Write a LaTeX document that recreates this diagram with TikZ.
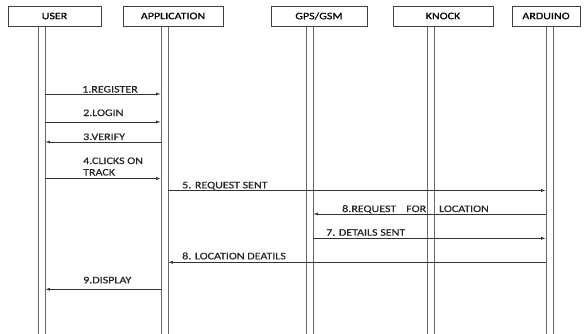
\documentclass[tikz,border=0pt]{standalone}
\usepackage{fontspec}
\newfontfamily\diagfont[FakeStretch=1.2,FakeBold=0.6]{Carlito}
\usetikzlibrary{arrows.meta}

\begin{document}
\begin{tikzpicture}[
  x=1pt,
  y=-1pt,
  line/.style={draw=black!75,line width=0.6pt},
  actor/.style={line,fill=white,minimum height=20pt,inner sep=0pt,
                font=\diagfont\fontsize{10}{11.5}\selectfont},
  lifeline/.style={draw=black!60,line width=0.7pt,minimum width=7pt,
                   minimum height=312pt,inner sep=0pt},
  msg/.style={draw=black!80,line width=0.6pt,-{Latex[length=4.5pt,width=3pt]}},
  lbl/.style={anchor=base west,inner sep=0pt,text=black!85,
              font=\diagfont\fontsize{10}{11.5}\selectfont}
]
\useasboundingbox (0,0) rectangle (588,334);

% ---------------------------------------------------------------
% lifelines (double rails down to the page edge)
% ---------------------------------------------------------------
\node[lifeline] (user-ll)  at (41.5,182)  {};
\node[lifeline] (app-ll)   at (164.5,182) {};
\node[lifeline] (gps-ll)   at (309.5,182) {};
\node[lifeline] (knock-ll) at (430.5,182) {};
\node[lifeline] (ard-ll)   at (549.5,182) {};

% ---------------------------------------------------------------
% actor boxes
% ---------------------------------------------------------------
\node[actor,minimum width=93pt]  (user)  at (54.5,16)  {USER};
\node[actor,minimum width=100pt] (app)   at (173,16)   {APPLICATION};
\node[actor,minimum width=96pt]  (gps)   at (319,16)   {GPS/GSM};
\node[actor,minimum width=100pt] (knock) at (443,16)   {KNOCK};
\node[actor,minimum width=68pt]  (ard)   at (546,16)   {ARDUINO};

% ---------------------------------------------------------------
% messages
% ---------------------------------------------------------------
\draw[msg] (user-ll.east |- 0,94) -- (app-ll.west |- 0,94);
\node[lbl] (m1) at (82,92.5) {1.REGISTER};

\draw[msg] (user-ll.east |- 0,122) -- (app-ll.west |- 0,122);
\node[lbl] (m2) at (83,116) {2.LOGIN};

\draw[msg] (app-ll.west |- 0,142) -- (user-ll.east |- 0,142);
\node[lbl] (m3) at (83,140) {3.VERIFY};

\draw[msg] (user-ll.east |- 0,178.5) -- (app-ll.west |- 0,178.5);
\node[lbl,align=left] (m4) at (83,175.5) {4.CLICKS ON\\TRACK};

\draw[msg] (app-ll.east |- 0,190.5) -- (ard-ll.west |- 0,190.5);
\node[lbl] (m5) at (182,188.3) {5. REQUEST SENT};

\draw[msg] (ard-ll.west |- 0,214) -- (gps-ll.east |- 0,214);
\node[lbl] (m6) at (342,212) {8.REQUEST\hspace{10pt}FOR\hspace{13pt}LOCATION};

\draw[msg] (gps-ll.east |- 0,238.3) -- (ard-ll.west |- 0,238.3);
\node[lbl] (m7) at (326,235.7) {7. DETAILS SENT};

\draw[msg] (ard-ll.west |- 0,262.3) -- (app-ll.east |- 0,262.3);
\node[lbl] (m8) at (182,259.3) {8. LOCATION DEATILS};

\draw[msg] (app-ll.west |- 0,289.3) -- (user-ll.east |- 0,289.3);
\node[lbl] (m9) at (83,283.3) {9.DISPLAY};

\end{tikzpicture}
\end{document}
